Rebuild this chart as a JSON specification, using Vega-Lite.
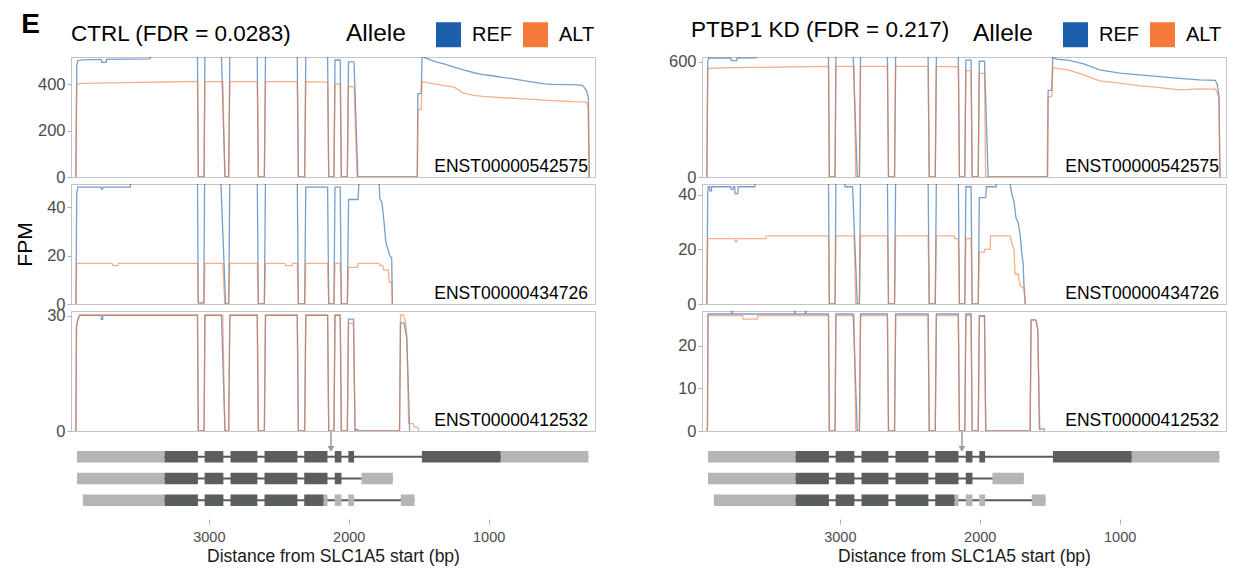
{
"$schema": "https://vega.github.io/schema/vega-lite/v6.json",
"padding": {"left": 14, "top": 10, "right": 5, "bottom": 2},
"title": {"text": "E", "anchor": "start", "frame": "bounds", "fontSize": 28, "fontWeight": "bold", "color": "black", "offset": -20, "dx": 7},
"datasets": {
"ctrl_542575": [
{"allele":"REF","x":3950,"y":0},{"allele":"REF","x":3944,"y":480},{"allele":"REF","x":3936,"y":503},{"allele":"REF","x":3900,"y":506},{"allele":"REF","x":3800,"y":507},{"allele":"REF","x":3767,"y":507},{"allele":"REF","x":3765,"y":495},{"allele":"REF","x":3733,"y":495},{"allele":"REF","x":3731,"y":508},{"allele":"REF","x":3420,"y":510},{"allele":"REF","x":3412,"y":522},{"allele":"REF","x":3081,"y":522},{"allele":"REF","x":3075,"y":0},{"allele":"REF","x":3034,"y":0},{"allele":"REF","x":3028,"y":522},{"allele":"REF","x":2910,"y":522},{"allele":"REF","x":2884,"y":0},{"allele":"REF","x":2858,"y":0},{"allele":"REF","x":2850,"y":522},{"allele":"REF","x":2654,"y":522},{"allele":"REF","x":2646,"y":0},{"allele":"REF","x":2603,"y":0},{"allele":"REF","x":2595,"y":522},{"allele":"REF","x":2368,"y":522},{"allele":"REF","x":2360,"y":0},{"allele":"REF","x":2315,"y":0},{"allele":"REF","x":2307,"y":522},{"allele":"REF","x":2151,"y":522},{"allele":"REF","x":2143,"y":0},{"allele":"REF","x":2106,"y":0},{"allele":"REF","x":2098,"y":505},{"allele":"REF","x":2061,"y":505},{"allele":"REF","x":2053,"y":0},{"allele":"REF","x":2010,"y":0},{"allele":"REF","x":2002,"y":497},{"allele":"REF","x":1962,"y":497},{"allele":"REF","x":1935,"y":0},{"allele":"REF","x":1510,"y":0},{"allele":"REF","x":1506,"y":360},{"allele":"REF","x":1482,"y":360},{"allele":"REF","x":1476,"y":522},{"allele":"REF","x":1450,"y":513},{"allele":"REF","x":1388,"y":499},{"allele":"REF","x":1320,"y":488},{"allele":"REF","x":1247,"y":474},{"allele":"REF","x":1180,"y":462},{"allele":"REF","x":1105,"y":450},{"allele":"REF","x":1040,"y":442},{"allele":"REF","x":964,"y":436},{"allele":"REF","x":900,"y":430},{"allele":"REF","x":823,"y":424},{"allele":"REF","x":750,"y":416},{"allele":"REF","x":682,"y":410},{"allele":"REF","x":600,"y":402},{"allele":"REF","x":541,"y":400},{"allele":"REF","x":400,"y":399},{"allele":"REF","x":329,"y":396},{"allele":"REF","x":301,"y":374},{"allele":"REF","x":287,"y":339},{"allele":"REF","x":281,"y":0},
{"allele":"ALT","x":3950,"y":0},{"allele":"ALT","x":3944,"y":395},{"allele":"ALT","x":3936,"y":403},{"allele":"ALT","x":3800,"y":405},{"allele":"ALT","x":3600,"y":407},{"allele":"ALT","x":3300,"y":410},{"allele":"ALT","x":3081,"y":413},{"allele":"ALT","x":3075,"y":0},{"allele":"ALT","x":3034,"y":0},{"allele":"ALT","x":3028,"y":412},{"allele":"ALT","x":2900,"y":412},{"allele":"ALT","x":2886,"y":0},{"allele":"ALT","x":2858,"y":0},{"allele":"ALT","x":2850,"y":412},{"allele":"ALT","x":2654,"y":412},{"allele":"ALT","x":2646,"y":0},{"allele":"ALT","x":2603,"y":0},{"allele":"ALT","x":2595,"y":412},{"allele":"ALT","x":2368,"y":412},{"allele":"ALT","x":2360,"y":0},{"allele":"ALT","x":2315,"y":0},{"allele":"ALT","x":2307,"y":412},{"allele":"ALT","x":2151,"y":410},{"allele":"ALT","x":2143,"y":0},{"allele":"ALT","x":2106,"y":0},{"allele":"ALT","x":2098,"y":402},{"allele":"ALT","x":2061,"y":402},{"allele":"ALT","x":2053,"y":0},{"allele":"ALT","x":2010,"y":0},{"allele":"ALT","x":2002,"y":390},{"allele":"ALT","x":1962,"y":390},{"allele":"ALT","x":1940,"y":0},{"allele":"ALT","x":1510,"y":0},{"allele":"ALT","x":1506,"y":292},{"allele":"ALT","x":1482,"y":292},{"allele":"ALT","x":1476,"y":412},{"allele":"ALT","x":1450,"y":408},{"allele":"ALT","x":1388,"y":402},{"allele":"ALT","x":1320,"y":394},{"allele":"ALT","x":1247,"y":388},{"allele":"ALT","x":1180,"y":362},{"allele":"ALT","x":1105,"y":352},{"allele":"ALT","x":1040,"y":348},{"allele":"ALT","x":964,"y":345},{"allele":"ALT","x":900,"y":342},{"allele":"ALT","x":823,"y":340},{"allele":"ALT","x":750,"y":337},{"allele":"ALT","x":682,"y":335},{"allele":"ALT","x":600,"y":332},{"allele":"ALT","x":541,"y":330},{"allele":"ALT","x":460,"y":327},{"allele":"ALT","x":400,"y":325},{"allele":"ALT","x":329,"y":324},{"allele":"ALT","x":301,"y":322},{"allele":"ALT","x":289,"y":300},{"allele":"ALT","x":283,"y":0}
],
"ctrl_434726": [
{"allele":"REF","x":3950,"y":0},{"allele":"REF","x":3944,"y":46},{"allele":"REF","x":3936,"y":48.3},{"allele":"REF","x":3770,"y":48.3},{"allele":"REF","x":3768,"y":47.5},{"allele":"REF","x":3759,"y":47.5},{"allele":"REF","x":3757,"y":48.3},{"allele":"REF","x":3562,"y":48.3},{"allele":"REF","x":3556,"y":52},{"allele":"REF","x":3081,"y":52},{"allele":"REF","x":3076,"y":1},{"allele":"REF","x":3070,"y":0.5},{"allele":"REF","x":3036,"y":0.5},{"allele":"REF","x":3030,"y":52},{"allele":"REF","x":2915,"y":52},{"allele":"REF","x":2880,"y":0},{"allele":"REF","x":2858,"y":0},{"allele":"REF","x":2850,"y":52},{"allele":"REF","x":2654,"y":52},{"allele":"REF","x":2646,"y":0},{"allele":"REF","x":2603,"y":0},{"allele":"REF","x":2595,"y":52},{"allele":"REF","x":2368,"y":52},{"allele":"REF","x":2360,"y":0},{"allele":"REF","x":2315,"y":0},{"allele":"REF","x":2307,"y":48.3},{"allele":"REF","x":2151,"y":48.3},{"allele":"REF","x":2143,"y":0},{"allele":"REF","x":2106,"y":0},{"allele":"REF","x":2098,"y":48.3},{"allele":"REF","x":2061,"y":48.3},{"allele":"REF","x":2053,"y":0},{"allele":"REF","x":2010,"y":0},{"allele":"REF","x":2005,"y":25},{"allele":"REF","x":2001,"y":43.2},{"allele":"REF","x":1934,"y":43.2},{"allele":"REF","x":1925,"y":52},{"allele":"REF","x":1784,"y":52},{"allele":"REF","x":1778,"y":43.5},{"allele":"REF","x":1763,"y":42},{"allele":"REF","x":1749,"y":34.6},{"allele":"REF","x":1735,"y":25.7},{"allele":"REF","x":1707,"y":20},{"allele":"REF","x":1693,"y":19},{"allele":"REF","x":1688,"y":0},
{"allele":"ALT","x":3950,"y":0},{"allele":"ALT","x":3944,"y":16.8},{"allele":"ALT","x":3690,"y":16.8},{"allele":"ALT","x":3686,"y":15.9},{"allele":"ALT","x":3652,"y":15.9},{"allele":"ALT","x":3648,"y":16.8},{"allele":"ALT","x":3081,"y":16.8},{"allele":"ALT","x":3075,"y":0},{"allele":"ALT","x":3034,"y":0},{"allele":"ALT","x":3028,"y":16.8},{"allele":"ALT","x":2900,"y":16.8},{"allele":"ALT","x":2886,"y":0},{"allele":"ALT","x":2858,"y":0},{"allele":"ALT","x":2850,"y":16.8},{"allele":"ALT","x":2654,"y":16.8},{"allele":"ALT","x":2646,"y":0},{"allele":"ALT","x":2603,"y":0},{"allele":"ALT","x":2595,"y":16.8},{"allele":"ALT","x":2455,"y":16.8},{"allele":"ALT","x":2451,"y":15.9},{"allele":"ALT","x":2404,"y":15.9},{"allele":"ALT","x":2400,"y":16.8},{"allele":"ALT","x":2368,"y":16.8},{"allele":"ALT","x":2360,"y":0},{"allele":"ALT","x":2315,"y":0},{"allele":"ALT","x":2307,"y":16.8},{"allele":"ALT","x":2151,"y":16.8},{"allele":"ALT","x":2143,"y":0},{"allele":"ALT","x":2106,"y":0},{"allele":"ALT","x":2098,"y":16.8},{"allele":"ALT","x":2061,"y":16.8},{"allele":"ALT","x":2053,"y":0},{"allele":"ALT","x":2010,"y":0},{"allele":"ALT","x":2002,"y":15.1},{"allele":"ALT","x":1938,"y":15.1},{"allele":"ALT","x":1932,"y":16.8},{"allele":"ALT","x":1784,"y":16.8},{"allele":"ALT","x":1778,"y":16},{"allele":"ALT","x":1757,"y":16},{"allele":"ALT","x":1748,"y":14},{"allele":"ALT","x":1717,"y":14},{"allele":"ALT","x":1710,"y":9},{"allele":"ALT","x":1693,"y":9},{"allele":"ALT","x":1688,"y":0}
],
"ctrl_412532": [
{"allele":"REF","x":3950,"y":0},{"allele":"REF","x":3946,"y":27},{"allele":"REF","x":3936,"y":29},{"allele":"REF","x":3922,"y":30.1},{"allele":"REF","x":3770,"y":30.1},{"allele":"REF","x":3768,"y":29},{"allele":"REF","x":3759,"y":29},{"allele":"REF","x":3757,"y":30.1},{"allele":"REF","x":3081,"y":30.1},{"allele":"REF","x":3075,"y":0},{"allele":"REF","x":3034,"y":0},{"allele":"REF","x":3028,"y":30.1},{"allele":"REF","x":2910,"y":30.1},{"allele":"REF","x":2884,"y":0},{"allele":"REF","x":2858,"y":0},{"allele":"REF","x":2850,"y":30.1},{"allele":"REF","x":2654,"y":30.1},{"allele":"REF","x":2646,"y":0},{"allele":"REF","x":2603,"y":0},{"allele":"REF","x":2595,"y":30.1},{"allele":"REF","x":2368,"y":30.1},{"allele":"REF","x":2360,"y":0},{"allele":"REF","x":2315,"y":0},{"allele":"REF","x":2307,"y":30.1},{"allele":"REF","x":2151,"y":30.1},{"allele":"REF","x":2143,"y":0},{"allele":"REF","x":2106,"y":0},{"allele":"REF","x":2098,"y":30.1},{"allele":"REF","x":2061,"y":30.1},{"allele":"REF","x":2053,"y":0},{"allele":"REF","x":2010,"y":0},{"allele":"REF","x":2002,"y":29.1},{"allele":"REF","x":1966,"y":29.1},{"allele":"REF","x":1955,"y":0},{"allele":"REF","x":1950,"y":0.4},{"allele":"REF","x":1938,"y":0.4},{"allele":"REF","x":1935,"y":0},{"allele":"REF","x":1637,"y":0},{"allele":"REF","x":1630,"y":28.1},{"allele":"REF","x":1605,"y":28.1},{"allele":"REF","x":1585,"y":24},{"allele":"REF","x":1571,"y":8},{"allele":"REF","x":1565,"y":0},
{"allele":"ALT","x":3950,"y":0},{"allele":"ALT","x":3946,"y":27},{"allele":"ALT","x":3936,"y":29},{"allele":"ALT","x":3922,"y":30.1},{"allele":"ALT","x":3081,"y":30.1},{"allele":"ALT","x":3075,"y":0},{"allele":"ALT","x":3034,"y":0},{"allele":"ALT","x":3028,"y":30.1},{"allele":"ALT","x":2900,"y":30.1},{"allele":"ALT","x":2886,"y":0},{"allele":"ALT","x":2858,"y":0},{"allele":"ALT","x":2850,"y":30.1},{"allele":"ALT","x":2654,"y":30.1},{"allele":"ALT","x":2646,"y":0},{"allele":"ALT","x":2603,"y":0},{"allele":"ALT","x":2595,"y":30.1},{"allele":"ALT","x":2368,"y":30.1},{"allele":"ALT","x":2360,"y":0},{"allele":"ALT","x":2315,"y":0},{"allele":"ALT","x":2307,"y":30.1},{"allele":"ALT","x":2151,"y":30.1},{"allele":"ALT","x":2143,"y":0},{"allele":"ALT","x":2106,"y":0},{"allele":"ALT","x":2098,"y":30.1},{"allele":"ALT","x":2061,"y":30.1},{"allele":"ALT","x":2053,"y":0},{"allele":"ALT","x":2010,"y":0},{"allele":"ALT","x":2002,"y":28},{"allele":"ALT","x":1966,"y":28},{"allele":"ALT","x":1955,"y":0},{"allele":"ALT","x":1637,"y":0},{"allele":"ALT","x":1630,"y":30.2},{"allele":"ALT","x":1610,"y":30.2},{"allele":"ALT","x":1594,"y":28.5},{"allele":"ALT","x":1585,"y":25},{"allele":"ALT","x":1572,"y":2},{"allele":"ALT","x":1540,"y":1.9},{"allele":"ALT","x":1530,"y":1},{"allele":"ALT","x":1506,"y":1},{"allele":"ALT","x":1500,"y":0}
],
"kd_542575": [
{"allele":"REF","x":3950,"y":0},{"allele":"REF","x":3944,"y":600},{"allele":"REF","x":3938,"y":618},{"allele":"REF","x":3778,"y":618},{"allele":"REF","x":3776,"y":605},{"allele":"REF","x":3737,"y":605},{"allele":"REF","x":3735,"y":618},{"allele":"REF","x":3600,"y":619},{"allele":"REF","x":3590,"y":630},{"allele":"REF","x":3081,"y":630},{"allele":"REF","x":3075,"y":0},{"allele":"REF","x":3034,"y":0},{"allele":"REF","x":3028,"y":630},{"allele":"REF","x":2905,"y":630},{"allele":"REF","x":2875,"y":0},{"allele":"REF","x":2860,"y":0},{"allele":"REF","x":2852,"y":630},{"allele":"REF","x":2660,"y":630},{"allele":"REF","x":2652,"y":0},{"allele":"REF","x":2609,"y":0},{"allele":"REF","x":2601,"y":630},{"allele":"REF","x":2369,"y":630},{"allele":"REF","x":2361,"y":0},{"allele":"REF","x":2318,"y":0},{"allele":"REF","x":2310,"y":630},{"allele":"REF","x":2153,"y":630},{"allele":"REF","x":2145,"y":0},{"allele":"REF","x":2107,"y":0},{"allele":"REF","x":2099,"y":608},{"allele":"REF","x":2062,"y":608},{"allele":"REF","x":2054,"y":0},{"allele":"REF","x":2011,"y":0},{"allele":"REF","x":2003,"y":602},{"allele":"REF","x":1966,"y":602},{"allele":"REF","x":1940,"y":0},{"allele":"REF","x":1515,"y":0},{"allele":"REF","x":1511,"y":450},{"allele":"REF","x":1485,"y":450},{"allele":"REF","x":1478,"y":630},{"allele":"REF","x":1470,"y":618},{"allele":"REF","x":1440,"y":612},{"allele":"REF","x":1370,"y":608},{"allele":"REF","x":1256,"y":588},{"allele":"REF","x":1143,"y":557},{"allele":"REF","x":1000,"y":540},{"allele":"REF","x":860,"y":531},{"allele":"REF","x":715,"y":522},{"allele":"REF","x":572,"y":513},{"allele":"REF","x":430,"y":505},{"allele":"REF","x":316,"y":503},{"allele":"REF","x":302,"y":479},{"allele":"REF","x":290,"y":420},{"allele":"REF","x":282,"y":0},
{"allele":"ALT","x":3950,"y":0},{"allele":"ALT","x":3944,"y":555},{"allele":"ALT","x":3936,"y":565},{"allele":"ALT","x":3800,"y":568},{"allele":"ALT","x":3600,"y":570},{"allele":"ALT","x":3400,"y":572},{"allele":"ALT","x":3200,"y":574},{"allele":"ALT","x":3081,"y":575},{"allele":"ALT","x":3075,"y":0},{"allele":"ALT","x":3034,"y":0},{"allele":"ALT","x":3028,"y":575},{"allele":"ALT","x":2898,"y":575},{"allele":"ALT","x":2886,"y":0},{"allele":"ALT","x":2860,"y":0},{"allele":"ALT","x":2852,"y":575},{"allele":"ALT","x":2660,"y":575},{"allele":"ALT","x":2652,"y":0},{"allele":"ALT","x":2609,"y":0},{"allele":"ALT","x":2601,"y":575},{"allele":"ALT","x":2369,"y":575},{"allele":"ALT","x":2361,"y":0},{"allele":"ALT","x":2318,"y":0},{"allele":"ALT","x":2310,"y":575},{"allele":"ALT","x":2153,"y":573},{"allele":"ALT","x":2145,"y":0},{"allele":"ALT","x":2107,"y":0},{"allele":"ALT","x":2099,"y":553},{"allele":"ALT","x":2062,"y":553},{"allele":"ALT","x":2054,"y":0},{"allele":"ALT","x":2011,"y":0},{"allele":"ALT","x":2003,"y":539},{"allele":"ALT","x":1966,"y":539},{"allele":"ALT","x":1958,"y":0},{"allele":"ALT","x":1518,"y":0},{"allele":"ALT","x":1513,"y":415},{"allele":"ALT","x":1485,"y":420},{"allele":"ALT","x":1478,"y":570},{"allele":"ALT","x":1450,"y":566},{"allele":"ALT","x":1370,"y":557},{"allele":"ALT","x":1256,"y":531},{"allele":"ALT","x":1143,"y":500},{"allele":"ALT","x":1000,"y":488},{"allele":"ALT","x":860,"y":475},{"allele":"ALT","x":715,"y":465},{"allele":"ALT","x":572,"y":453},{"allele":"ALT","x":430,"y":458},{"allele":"ALT","x":316,"y":457},{"allele":"ALT","x":302,"y":435},{"allele":"ALT","x":290,"y":410},{"allele":"ALT","x":285,"y":0}
],
"kd_434726": [
{"allele":"REF","x":3950,"y":0},{"allele":"REF","x":3944,"y":41},{"allele":"REF","x":3940,"y":43},{"allele":"REF","x":3930,"y":43},{"allele":"REF","x":3929,"y":41.5},{"allele":"REF","x":3917,"y":41.5},{"allele":"REF","x":3916,"y":43},{"allele":"REF","x":3778,"y":43},{"allele":"REF","x":3776,"y":42},{"allele":"REF","x":3763,"y":42},{"allele":"REF","x":3760,"y":43},{"allele":"REF","x":3751,"y":43},{"allele":"REF","x":3749,"y":40.5},{"allele":"REF","x":3729,"y":40.5},{"allele":"REF","x":3727,"y":43},{"allele":"REF","x":3607,"y":43},{"allele":"REF","x":3604,"y":46},{"allele":"REF","x":3081,"y":46},{"allele":"REF","x":3075,"y":0},{"allele":"REF","x":3034,"y":0},{"allele":"REF","x":3028,"y":46},{"allele":"REF","x":2966,"y":46},{"allele":"REF","x":2963,"y":43},{"allele":"REF","x":2909,"y":43},{"allele":"REF","x":2875,"y":0},{"allele":"REF","x":2860,"y":0},{"allele":"REF","x":2852,"y":46},{"allele":"REF","x":2660,"y":46},{"allele":"REF","x":2652,"y":0},{"allele":"REF","x":2609,"y":0},{"allele":"REF","x":2601,"y":46},{"allele":"REF","x":2369,"y":46},{"allele":"REF","x":2361,"y":0},{"allele":"REF","x":2318,"y":0},{"allele":"REF","x":2310,"y":46},{"allele":"REF","x":2153,"y":46},{"allele":"REF","x":2145,"y":0},{"allele":"REF","x":2107,"y":0},{"allele":"REF","x":2099,"y":43},{"allele":"REF","x":2062,"y":43},{"allele":"REF","x":2054,"y":0},{"allele":"REF","x":2011,"y":0},{"allele":"REF","x":2003,"y":39},{"allele":"REF","x":1957,"y":39},{"allele":"REF","x":1953,"y":43},{"allele":"REF","x":1883,"y":43},{"allele":"REF","x":1880,"y":46},{"allele":"REF","x":1783,"y":46},{"allele":"REF","x":1780,"y":43},{"allele":"REF","x":1769,"y":40},{"allele":"REF","x":1755,"y":37.6},{"allele":"REF","x":1741,"y":31.5},{"allele":"REF","x":1726,"y":30},{"allele":"REF","x":1712,"y":25.5},{"allele":"REF","x":1698,"y":18},{"allele":"REF","x":1690,"y":15},{"allele":"REF","x":1684,"y":7},{"allele":"REF","x":1675,"y":0},
{"allele":"ALT","x":3950,"y":0},{"allele":"ALT","x":3944,"y":24},{"allele":"ALT","x":3749,"y":24},{"allele":"ALT","x":3747,"y":23},{"allele":"ALT","x":3735,"y":23},{"allele":"ALT","x":3733,"y":24},{"allele":"ALT","x":3530,"y":24},{"allele":"ALT","x":3527,"y":25},{"allele":"ALT","x":3081,"y":25},{"allele":"ALT","x":3075,"y":0},{"allele":"ALT","x":3034,"y":0},{"allele":"ALT","x":3028,"y":25},{"allele":"ALT","x":2898,"y":25},{"allele":"ALT","x":2886,"y":0},{"allele":"ALT","x":2860,"y":0},{"allele":"ALT","x":2852,"y":25},{"allele":"ALT","x":2660,"y":25},{"allele":"ALT","x":2652,"y":0},{"allele":"ALT","x":2609,"y":0},{"allele":"ALT","x":2601,"y":25},{"allele":"ALT","x":2369,"y":25},{"allele":"ALT","x":2361,"y":0},{"allele":"ALT","x":2318,"y":0},{"allele":"ALT","x":2310,"y":25},{"allele":"ALT","x":2182,"y":25},{"allele":"ALT","x":2179,"y":24},{"allele":"ALT","x":2153,"y":24},{"allele":"ALT","x":2145,"y":0},{"allele":"ALT","x":2107,"y":0},{"allele":"ALT","x":2099,"y":24},{"allele":"ALT","x":2062,"y":24},{"allele":"ALT","x":2054,"y":0},{"allele":"ALT","x":2011,"y":0},{"allele":"ALT","x":2003,"y":19},{"allele":"ALT","x":1968,"y":19},{"allele":"ALT","x":1965,"y":20},{"allele":"ALT","x":1926,"y":20},{"allele":"ALT","x":1923,"y":25},{"allele":"ALT","x":1783,"y":25},{"allele":"ALT","x":1769,"y":22},{"allele":"ALT","x":1755,"y":20},{"allele":"ALT","x":1748,"y":11},{"allele":"ALT","x":1726,"y":11},{"allele":"ALT","x":1712,"y":7},{"allele":"ALT","x":1698,"y":6},{"allele":"ALT","x":1684,"y":6},{"allele":"ALT","x":1675,"y":0}
],
"kd_412532": [
{"allele":"REF","x":3950,"y":0},{"allele":"REF","x":3946,"y":1},{"allele":"REF","x":3942,"y":27.4},{"allele":"REF","x":3771,"y":27.4},{"allele":"REF","x":3770,"y":28.5},{"allele":"REF","x":3767,"y":28.5},{"allele":"REF","x":3766,"y":27.4},{"allele":"REF","x":3324,"y":27.4},{"allele":"REF","x":3323,"y":28.5},{"allele":"REF","x":3320,"y":28.5},{"allele":"REF","x":3319,"y":27.4},{"allele":"REF","x":3248,"y":27.4},{"allele":"REF","x":3247,"y":28.5},{"allele":"REF","x":3243,"y":28.5},{"allele":"REF","x":3242,"y":27.4},{"allele":"REF","x":3081,"y":27.4},{"allele":"REF","x":3075,"y":0},{"allele":"REF","x":3034,"y":0},{"allele":"REF","x":3028,"y":27.4},{"allele":"REF","x":2905,"y":27.4},{"allele":"REF","x":2875,"y":0},{"allele":"REF","x":2860,"y":0},{"allele":"REF","x":2852,"y":27.4},{"allele":"REF","x":2660,"y":27.4},{"allele":"REF","x":2652,"y":0},{"allele":"REF","x":2609,"y":0},{"allele":"REF","x":2601,"y":27.4},{"allele":"REF","x":2369,"y":27.4},{"allele":"REF","x":2361,"y":0},{"allele":"REF","x":2318,"y":0},{"allele":"REF","x":2310,"y":27.4},{"allele":"REF","x":2153,"y":27.4},{"allele":"REF","x":2145,"y":0},{"allele":"REF","x":2107,"y":0},{"allele":"REF","x":2099,"y":27.4},{"allele":"REF","x":2062,"y":27.4},{"allele":"REF","x":2054,"y":0},{"allele":"REF","x":2011,"y":0},{"allele":"REF","x":2003,"y":27},{"allele":"REF","x":1966,"y":27},{"allele":"REF","x":1957,"y":0},{"allele":"REF","x":1640,"y":0},{"allele":"REF","x":1633,"y":26},{"allele":"REF","x":1600,"y":26},{"allele":"REF","x":1585,"y":24},{"allele":"REF","x":1574,"y":0.5},{"allele":"REF","x":1541,"y":0.5},{"allele":"REF","x":1538,"y":0},
{"allele":"ALT","x":3950,"y":0},{"allele":"ALT","x":3946,"y":1},{"allele":"ALT","x":3942,"y":27},{"allele":"ALT","x":3695,"y":27},{"allele":"ALT","x":3692,"y":26.2},{"allele":"ALT","x":3590,"y":26.2},{"allele":"ALT","x":3587,"y":27},{"allele":"ALT","x":3081,"y":27},{"allele":"ALT","x":3075,"y":0},{"allele":"ALT","x":3034,"y":0},{"allele":"ALT","x":3028,"y":27},{"allele":"ALT","x":2898,"y":27},{"allele":"ALT","x":2886,"y":0},{"allele":"ALT","x":2860,"y":0},{"allele":"ALT","x":2852,"y":27},{"allele":"ALT","x":2660,"y":27},{"allele":"ALT","x":2652,"y":0},{"allele":"ALT","x":2609,"y":0},{"allele":"ALT","x":2601,"y":27},{"allele":"ALT","x":2369,"y":27},{"allele":"ALT","x":2361,"y":0},{"allele":"ALT","x":2318,"y":0},{"allele":"ALT","x":2310,"y":27},{"allele":"ALT","x":2153,"y":27},{"allele":"ALT","x":2145,"y":0},{"allele":"ALT","x":2107,"y":0},{"allele":"ALT","x":2099,"y":27},{"allele":"ALT","x":2062,"y":27},{"allele":"ALT","x":2054,"y":0},{"allele":"ALT","x":2011,"y":0},{"allele":"ALT","x":2003,"y":26.8},{"allele":"ALT","x":1966,"y":26.8},{"allele":"ALT","x":1957,"y":0},{"allele":"ALT","x":1640,"y":0},{"allele":"ALT","x":1633,"y":26},{"allele":"ALT","x":1600,"y":26},{"allele":"ALT","x":1585,"y":23.5},{"allele":"ALT","x":1570,"y":0}
],
"exons": [
{"tx":"ENST00000542575","type":"UTR","start":3942,"end":3316},{"tx":"ENST00000542575","type":"CDS","start":3316,"end":3078},{"tx":"ENST00000542575","type":"CDS","start":3030,"end":2896},{"tx":"ENST00000542575","type":"CDS","start":2845,"end":2653},{"tx":"ENST00000542575","type":"CDS","start":2602,"end":2367},{"tx":"ENST00000542575","type":"CDS","start":2318,"end":2152},{"tx":"ENST00000542575","type":"CDS","start":2100,"end":2052},{"tx":"ENST00000542575","type":"CDS","start":2003,"end":1962},{"tx":"ENST00000542575","type":"CDS","start":1477,"end":914},{"tx":"ENST00000542575","type":"UTR","start":914,"end":288},
{"tx":"ENST00000434726","type":"UTR","start":3942,"end":3316},{"tx":"ENST00000434726","type":"CDS","start":3316,"end":3078},{"tx":"ENST00000434726","type":"CDS","start":3030,"end":2896},{"tx":"ENST00000434726","type":"CDS","start":2845,"end":2653},{"tx":"ENST00000434726","type":"CDS","start":2602,"end":2367},{"tx":"ENST00000434726","type":"CDS","start":2318,"end":2152},{"tx":"ENST00000434726","type":"CDS","start":2100,"end":2052},{"tx":"ENST00000434726","type":"UTR","start":1909,"end":1685},
{"tx":"ENST00000412532","type":"UTR","start":3900,"end":3316},{"tx":"ENST00000412532","type":"CDS","start":3316,"end":3078},{"tx":"ENST00000412532","type":"CDS","start":3030,"end":2896},{"tx":"ENST00000412532","type":"CDS","start":2845,"end":2653},{"tx":"ENST00000412532","type":"CDS","start":2602,"end":2367},{"tx":"ENST00000412532","type":"CDS","start":2318,"end":2180},{"tx":"ENST00000412532","type":"UTR","start":2180,"end":2152},{"tx":"ENST00000412532","type":"UTR","start":2100,"end":2052},{"tx":"ENST00000412532","type":"UTR","start":2003,"end":1962},{"tx":"ENST00000412532","type":"UTR","start":1628,"end":1530}
],
"introns": [
{"tx":"ENST00000542575","start":3942,"end":288},{"tx":"ENST00000434726","start":3942,"end":1685},{"tx":"ENST00000412532","start":3900,"end":1530}
],
"snp": [{"pos":2127}]
},
"hconcat": [
{"vconcat": [
 {"width": 524, "height": 120,
  "title": {"text": "CTRL (FDR = 0.0283)", "anchor": "start", "frame": "group", "fontSize": 22.5, "offset": 12},
  "layer": [
   {"data": {"name": "ctrl_542575"}, "mark": {"type": "line", "clip": true, "strokeWidth": 1.3, "opacity": 0.6},
    "encoding": {"x": {"field": "x", "type": "quantitative", "scale": {"domain": [3985, 240], "nice": false, "zero": false}, "axis": null},
     "y": {"field": "y", "type": "quantitative", "scale": {"domain": [0, 518], "nice": false}, "axis": {"values": [0, 200, 400], "title": null}},
     "color": {"field": "allele", "type": "nominal", "scale": {"domain": ["REF", "ALT"], "range": ["#1b5fac", "#f47a3a"]}, "legend": {"title": "Allele", "legendX": 275, "legendY": -35}}}},
   {"data": {"values": [{"label": "ENST00000542575"}]}, "mark": {"type": "text", "align": "right", "baseline": "alphabetic", "dy": -5.5, "fontSize": 17.5, "color": "black"},
    "encoding": {"x": {"datum": 290}, "y": {"datum": 0}, "text": {"field": "label"}}}
  ]},
 {"width": 524, "height": 120,
  "layer": [
   {"data": {"name": "ctrl_434726"}, "mark": {"type": "line", "clip": true, "strokeWidth": 1.3, "opacity": 0.6},
    "encoding": {"x": {"field": "x", "type": "quantitative", "scale": {"domain": [3985, 240], "nice": false, "zero": false}, "axis": null},
     "y": {"field": "y", "type": "quantitative", "scale": {"domain": [0, 49.6], "nice": false}, "axis": {"values": [0, 20, 40], "title": "FPM", "titleFontSize": 21, "titleFontWeight": "normal", "titleColor": "black", "titlePadding": 11}},
     "color": {"field": "allele", "type": "nominal", "scale": {"domain": ["REF", "ALT"], "range": ["#1b5fac", "#f47a3a"]}}}},
   {"data": {"values": [{"label": "ENST00000434726"}]}, "mark": {"type": "text", "align": "right", "baseline": "alphabetic", "dy": -5.5, "fontSize": 17.5, "color": "black"},
    "encoding": {"x": {"datum": 290}, "y": {"datum": 0}, "text": {"field": "label"}}}
  ]},
 {"width": 524, "height": 120,
  "layer": [
   {"data": {"name": "ctrl_412532"}, "mark": {"type": "line", "clip": true, "strokeWidth": 1.3, "opacity": 0.6},
    "encoding": {"x": {"field": "x", "type": "quantitative", "scale": {"domain": [3985, 240], "nice": false, "zero": false}, "axis": null},
     "y": {"field": "y", "type": "quantitative", "scale": {"domain": [0, 31.2], "nice": false}, "axis": {"values": [0, 10, 20, 30], "title": null}},
     "color": {"field": "allele", "type": "nominal", "scale": {"domain": ["REF", "ALT"], "range": ["#1b5fac", "#f47a3a"]}}}},
   {"data": {"values": [{"label": "ENST00000412532"}]}, "mark": {"type": "text", "align": "right", "baseline": "alphabetic", "dy": -5.5, "fontSize": 17.5, "color": "black"},
    "encoding": {"x": {"datum": 290}, "y": {"datum": 0}, "text": {"field": "label"}}}
  ]},
 {"width": 524, "height": 81, "view": {"stroke": null},
  "layer": [
   {"data": {"name": "introns"}, "mark": {"type": "rule", "color": "#5a5a5a", "strokeWidth": 2},
    "encoding": {"x": {"field": "start", "type": "quantitative", "scale": {"domain": [3985, 240], "nice": false, "zero": false},
      "axis": {"values": [3000, 2000, 1000], "format": "d", "title": "Distance from SLC1A5 start (bp)", "labelFontSize": 14.5, "tickSize": 5, "labelPadding": 6, "titleFontSize": 17.5, "titleFontWeight": "normal", "titleColor": "#1a1a1a", "titlePadding": 4}},
     "x2": {"field": "end"},
     "y": {"field": "tx", "type": "nominal", "scale": {"domain": ["ENST00000542575", "ENST00000434726", "ENST00000412532"], "paddingInner": 0.47, "paddingOuter": 0.6}, "axis": null}}},
   {"data": {"name": "exons"}, "transform": [{"filter": "datum.type === 'UTR'"}], "mark": {"type": "bar", "color": "#b5b5b5"},
    "encoding": {"x": {"field": "start", "type": "quantitative"}, "x2": {"field": "end"}, "y": {"field": "tx", "type": "nominal"}}},
   {"data": {"name": "exons"}, "transform": [{"filter": "datum.type === 'CDS'"}], "mark": {"type": "bar", "color": "#5a5e5f"},
    "encoding": {"x": {"field": "start", "type": "quantitative"}, "x2": {"field": "end"}, "y": {"field": "tx", "type": "nominal"}}},
   {"data": {"name": "snp"}, "mark": {"type": "rule", "color": "#9a9a9a", "strokeWidth": 1.5, "yOffset": -25, "y2Offset": -9},
    "encoding": {"x": {"field": "pos", "type": "quantitative"}, "y": {"datum": "ENST00000542575"}, "y2": {"datum": "ENST00000542575"}}},
   {"data": {"name": "snp"}, "mark": {"type": "point", "shape": "triangle-down", "filled": true, "color": "#9a9a9a", "size": 45, "yOffset": -8, "opacity": 1},
    "encoding": {"x": {"field": "pos", "type": "quantitative"}, "y": {"datum": "ENST00000542575"}}}
  ]}
], "spacing": 7, "bounds": "flush"},
{"vconcat": [
 {"width": 524, "height": 120,
  "title": {"text": "PTBP1 KD (FDR = 0.217)", "anchor": "start", "frame": "group", "fontSize": 22.5, "offset": 12, "dx": -11},
  "layer": [
   {"data": {"name": "kd_542575"}, "mark": {"type": "line", "clip": true, "strokeWidth": 1.3, "opacity": 0.6},
    "encoding": {"x": {"field": "x", "type": "quantitative", "scale": {"domain": [3985, 240], "nice": false, "zero": false}, "axis": null},
     "y": {"field": "y", "type": "quantitative", "scale": {"domain": [0, 624], "nice": false}, "axis": {"values": [0, 200, 400, 600], "title": null}},
     "color": {"field": "allele", "type": "nominal", "scale": {"domain": ["REF", "ALT"], "range": ["#1b5fac", "#f47a3a"]}, "legend": {"title": "Allele", "legendX": 271, "legendY": -35}}}},
   {"data": {"values": [{"label": "ENST00000542575"}]}, "mark": {"type": "text", "align": "right", "baseline": "alphabetic", "dy": -5.5, "fontSize": 17.5, "color": "black"},
    "encoding": {"x": {"datum": 290}, "y": {"datum": 0}, "text": {"field": "label"}}}
  ]},
 {"width": 524, "height": 120,
  "layer": [
   {"data": {"name": "kd_434726"}, "mark": {"type": "line", "clip": true, "strokeWidth": 1.3, "opacity": 0.6},
    "encoding": {"x": {"field": "x", "type": "quantitative", "scale": {"domain": [3985, 240], "nice": false, "zero": false}, "axis": null},
     "y": {"field": "y", "type": "quantitative", "scale": {"domain": [0, 44], "nice": false}, "axis": {"values": [0, 10, 20, 30, 40], "title": null}},
     "color": {"field": "allele", "type": "nominal", "scale": {"domain": ["REF", "ALT"], "range": ["#1b5fac", "#f47a3a"]}}}},
   {"data": {"values": [{"label": "ENST00000434726"}]}, "mark": {"type": "text", "align": "right", "baseline": "alphabetic", "dy": -5.5, "fontSize": 17.5, "color": "black"},
    "encoding": {"x": {"datum": 290}, "y": {"datum": 0}, "text": {"field": "label"}}}
  ]},
 {"width": 524, "height": 120,
  "layer": [
   {"data": {"name": "kd_412532"}, "mark": {"type": "line", "clip": true, "strokeWidth": 1.3, "opacity": 0.6},
    "encoding": {"x": {"field": "x", "type": "quantitative", "scale": {"domain": [3985, 240], "nice": false, "zero": false}, "axis": null},
     "y": {"field": "y", "type": "quantitative", "scale": {"domain": [0, 28.1], "nice": false}, "axis": {"values": [0, 10, 20], "title": null}},
     "color": {"field": "allele", "type": "nominal", "scale": {"domain": ["REF", "ALT"], "range": ["#1b5fac", "#f47a3a"]}}}},
   {"data": {"values": [{"label": "ENST00000412532"}]}, "mark": {"type": "text", "align": "right", "baseline": "alphabetic", "dy": -5.5, "fontSize": 17.5, "color": "black"},
    "encoding": {"x": {"datum": 290}, "y": {"datum": 0}, "text": {"field": "label"}}}
  ]},
 {"width": 524, "height": 81, "view": {"stroke": null},
  "layer": [
   {"data": {"name": "introns"}, "mark": {"type": "rule", "color": "#5a5a5a", "strokeWidth": 2},
    "encoding": {"x": {"field": "start", "type": "quantitative", "scale": {"domain": [3985, 240], "nice": false, "zero": false},
      "axis": {"values": [3000, 2000, 1000], "format": "d", "title": "Distance from SLC1A5 start (bp)", "labelFontSize": 14.5, "tickSize": 5, "labelPadding": 6, "titleFontSize": 17.5, "titleFontWeight": "normal", "titleColor": "#1a1a1a", "titlePadding": 4}},
     "x2": {"field": "end"},
     "y": {"field": "tx", "type": "nominal", "scale": {"domain": ["ENST00000542575", "ENST00000434726", "ENST00000412532"], "paddingInner": 0.47, "paddingOuter": 0.6}, "axis": null}}},
   {"data": {"name": "exons"}, "transform": [{"filter": "datum.type === 'UTR'"}], "mark": {"type": "bar", "color": "#b5b5b5"},
    "encoding": {"x": {"field": "start", "type": "quantitative"}, "x2": {"field": "end"}, "y": {"field": "tx", "type": "nominal"}}},
   {"data": {"name": "exons"}, "transform": [{"filter": "datum.type === 'CDS'"}], "mark": {"type": "bar", "color": "#5a5e5f"},
    "encoding": {"x": {"field": "start", "type": "quantitative"}, "x2": {"field": "end"}, "y": {"field": "tx", "type": "nominal"}}},
   {"data": {"name": "snp"}, "mark": {"type": "rule", "color": "#9a9a9a", "strokeWidth": 1.5, "yOffset": -25, "y2Offset": -9},
    "encoding": {"x": {"field": "pos", "type": "quantitative"}, "y": {"datum": "ENST00000542575"}, "y2": {"datum": "ENST00000542575"}}},
   {"data": {"name": "snp"}, "mark": {"type": "point", "shape": "triangle-down", "filled": true, "color": "#9a9a9a", "size": 45, "yOffset": -8, "opacity": 1},
    "encoding": {"x": {"field": "pos", "type": "quantitative"}, "y": {"datum": "ENST00000542575"}}}
  ]}
], "spacing": 7, "bounds": "flush"}
],
"spacing": 71,
"resolve": {"legend": {"color": "independent"}},
"config": {
 "font": "Liberation Sans",
 "view": {"stroke": "#c4c4c4", "strokeWidth": 1},
 "axis": {"grid": false, "domain": false, "tickColor": "#b0b0b0", "tickSize": 4, "labelColor": "#4d4d4d", "labelFontSize": 16.5, "labelFont": "Liberation Sans", "titleFont": "Liberation Sans", "labelPadding": 2},
 "title": {"font": "Liberation Sans", "fontWeight": "normal", "color": "black"},
 "legend": {"orient": "none", "direction": "horizontal", "titleOrient": "left", "titleAnchor": "start", "titleBaseline": "top", "titleFontSize": 24.5, "titleFontWeight": "normal", "titleColor": "black", "titleFont": "Liberation Sans", "titlePadding": 30, "labelFontSize": 20, "labelColor": "black", "labelFont": "Liberation Sans", "symbolType": "square", "symbolSize": 144, "symbolStrokeWidth": 13, "symbolOpacity": 1, "labelOffset": 11, "columnPadding": -9, "padding": 0}
}
}
